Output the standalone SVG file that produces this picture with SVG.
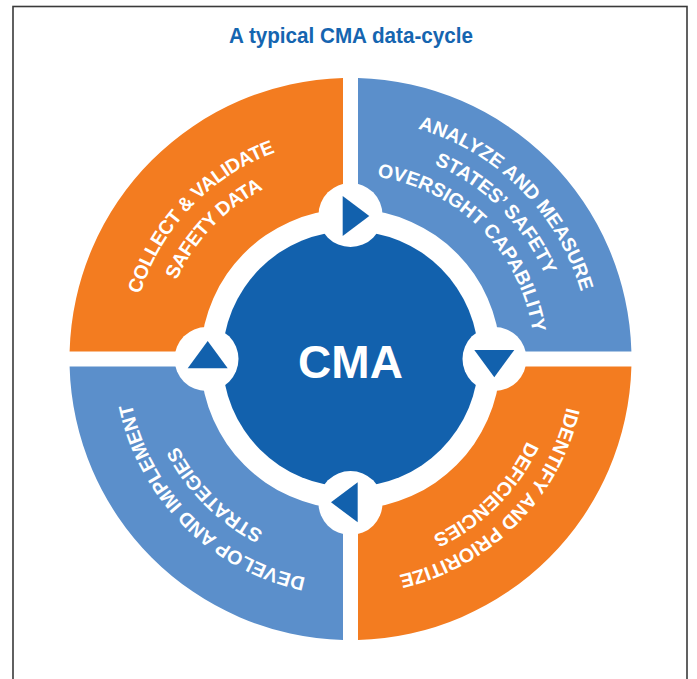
<svg xmlns="http://www.w3.org/2000/svg" width="697" height="679" viewBox="0 0 697 679">
<style>
.orange{fill:#f37c20}
.lblue{fill:#5b8fcb}
.dblue{fill:#1261ad}
.lbl{font-family:"Liberation Sans",Arial,Helvetica,sans-serif;font-weight:bold;font-size:19.5px;fill:#ffffff}
.tight{letter-spacing:-0.5px}
.title{font-family:"Liberation Sans Narrow","Liberation Sans",Arial,sans-serif;font-weight:bold;font-size:22px;fill:#1565b0}
.ring{fill:#ffffff}
</style>
<defs>
<path id="tl1" d="M199.05 518.59 A220 220 0 0 1 501.95 199.41"/>
<path id="tl2" d="M219.02 497.55 A191 191 0 0 1 481.98 220.45"/>
<path id="tr1" d="M180.79 189.29 A240 240 0 0 1 520.21 528.71"/>
<path id="tr2" d="M200.59 209.09 A212 212 0 0 1 500.41 508.91"/>
<path id="tr3" d="M220.39 228.89 A184 184 0 0 1 480.61 489.11"/>
<path id="br1" d="M508.18 201.32 A223 223 0 0 1 192.82 516.68"/>
<path id="br2" d="M489.09 220.41 A196 196 0 0 1 211.91 497.59"/>
<path id="bl1" d="M508.89 517.39 A224 224 0 0 1 192.11 200.61"/>
<path id="bl2" d="M488.38 496.88 A195 195 0 0 1 212.62 221.12"/>
</defs>
<rect x="0" y="0" width="697" height="679" fill="#ffffff"/>
<rect x="13" y="6.5" width="674" height="700" fill="none" stroke="#3a3a3a" stroke-width="1.6"/>
<text class="title" x="351" y="42.7" text-anchor="middle" textLength="244" lengthAdjust="spacingAndGlyphs">A typical CMA data-cycle</text>

<g id="collect">
<path class="orange" d="M343 78.1 A281 281 0 0 0 69.6 351.5 L200.69 351.5 A150 150 0 0 1 343 209.19 Z"/>
<text class="lbl tight"><textPath href="#tl1" startOffset="50%" text-anchor="middle">COLLECT &amp; VALIDATE</textPath></text>
<text class="lbl tight"><textPath href="#tl2" startOffset="50%" text-anchor="middle">SAFETY DATA</textPath></text>
</g>
<g id="analyze">
<path class="lblue" d="M358 78.1 A281 281 0 0 1 631.4 351.5 L500.31 351.5 A150 150 0 0 0 358 209.19 Z"/>
<text class="lbl"><textPath href="#tr1" startOffset="50%" text-anchor="middle">ANALYZE AND MEASURE</textPath></text>
<text class="lbl"><textPath href="#tr2" startOffset="50%" text-anchor="middle">STATES’ SAFETY</textPath></text>
<text class="lbl"><textPath href="#tr3" startOffset="50%" text-anchor="middle">OVERSIGHT CAPABILITY</textPath></text>
</g>
<g id="identify">
<path class="orange" d="M631.4 366.5 A281 281 0 0 1 358 639.9 L358 508.81 A150 150 0 0 0 500.31 366.5 Z"/>
<text class="lbl"><textPath href="#br1" startOffset="50%" text-anchor="middle">IDENTIFY AND PRIORITIZE</textPath></text>
<text class="lbl"><textPath href="#br2" startOffset="50%" text-anchor="middle">DEFICIENCIES</textPath></text>
</g>
<g id="develop">
<path class="lblue" d="M343 639.9 A281 281 0 0 1 69.6 366.5 L200.69 366.5 A150 150 0 0 0 343 508.81 Z"/>
<text class="lbl"><textPath href="#bl1" startOffset="50%" text-anchor="middle">DEVELOP AND IMPLEMENT</textPath></text>
<text class="lbl"><textPath href="#bl2" startOffset="50%" text-anchor="middle">STRATEGIES</textPath></text>
</g>
<g id="cma">
<circle class="dblue" cx="350.5" cy="359" r="128"/>
<text x="350.5" y="378" text-anchor="middle" style="font-family:'Liberation Sans',Arial,sans-serif;font-weight:bold;font-size:46px;fill:#ffffff">CMA</text>
</g>
<g id="connectors">
<circle class="ring" cx="350.5" cy="215" r="32"/>
<circle class="ring" cx="494.5" cy="359" r="32"/>
<circle class="ring" cx="350.5" cy="503" r="32"/>
<circle class="ring" cx="206.5" cy="359" r="32"/>
<polygon class="dblue" points="342.7,196 342.7,236 369.3,216"/>
<polygon class="dblue" points="474.3,350 514.3,350 494.3,377.3"/>
<polygon class="dblue" points="357.7,482.3 357.7,522.3 331,502.3"/>
<polygon class="dblue" points="187.7,368.3 227.7,368.3 207.7,341"/>
</g>
</svg>
